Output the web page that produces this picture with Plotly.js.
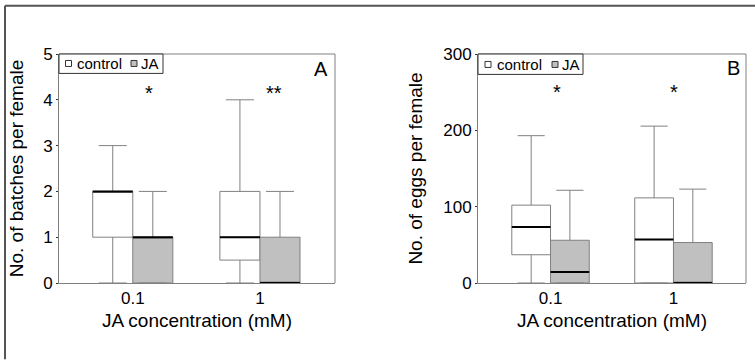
<!DOCTYPE html>
<html><head><meta charset="utf-8">
<script src="https://cdn.plot.ly/plotly-3.0.1.min.js"></script>
<style>html,body{margin:0;padding:0;background:#fff}</style>
</head><body><div id="chart" style="width:755px;height:360px"></div>
<script>
// ---- data ----
const categories = ['0.1', '1'];
const seriesNames = ['control', 'JA'];
// Panel A: No. of batches per female
const batchesControlMin = [0, 0];
const batchesControlQ1 = [1, 0.5];
const batchesControlMedian = [2, 1];
const batchesControlQ3 = [2, 2];
const batchesControlMax = [3, 4];
const batchesJAMin = [0, 0];
const batchesJAQ1 = [0, 0];
const batchesJAMedian = [1, 0];
const batchesJAQ3 = [1, 1];
const batchesJAMax = [2, 2];
// Panel B: No. of eggs per female
const eggsControlMin = [0, 0];
const eggsControlQ1 = [37, 0];
const eggsControlMedian = [73.5, 57];
const eggsControlQ3 = [102, 111.5];
const eggsControlMax = [193, 205.5];
const eggsJAMin = [0, 0];
const eggsJAQ1 = [0, 0];
const eggsJAMedian = [14.5, 0];
const eggsJAQ3 = [56, 53];
const eggsJAMax = [121.5, 123];
const signifA = ['*', '**'];
const signifB = ['*', '*'];

// ---- helpers (pixel -> paper, paper = plot area inside margins) ----
const W = 755, H = 360;
const ML = 59, MR = 9, MT = 53.5, MB = 76.5;
const PW = W - ML - MR, PH = H - MT - MB;
const px = x => (x - ML) / PW;
const py = y => (H - MB - y) / PH;
const FONT = 'Arial, "Liberation Sans", sans-serif';
const GRAY = '#808080';
const JAFILL = '#c0c0c0';

function boxTrace(q1, med, q3, lo, hi, fill, xa, ya, group) {
  return {type: 'box', x: categories, q1: q1, median: med, q3: q3,
    lowerfence: lo, upperfence: hi, fillcolor: fill,
    line: {color: GRAY, width: 1}, whiskerwidth: 0.7,
    offsetgroup: group, xaxis: xa, yaxis: ya, showlegend: false};
}
function medianTrace(med, xa, ya, group) {
  return {type: 'box', x: categories, q1: med, median: med, q3: med,
    lowerfence: med, upperfence: med, fillcolor: 'rgba(0,0,0,0)',
    line: {color: '#000', width: 2}, whiskerwidth: 0,
    offsetgroup: group, xaxis: xa, yaxis: ya, showlegend: false};
}

const data = [
  boxTrace(batchesControlQ1, batchesControlMedian, batchesControlQ3, batchesControlMin, batchesControlMax, '#ffffff', 'x', 'y', 'c'),
  boxTrace(batchesJAQ1, batchesJAMedian, batchesJAQ3, batchesJAMin, batchesJAMax, JAFILL, 'x', 'y', 'j'),
  medianTrace(batchesControlMedian, 'x', 'y', 'c'),
  medianTrace(batchesJAMedian, 'x', 'y', 'j'),
  boxTrace(eggsControlQ1, eggsControlMedian, eggsControlQ3, eggsControlMin, eggsControlMax, '#ffffff', 'x2', 'y2', 'c'),
  boxTrace(eggsJAQ1, eggsJAMedian, eggsJAQ3, eggsJAMin, eggsJAMax, JAFILL, 'x2', 'y2', 'j'),
  medianTrace(eggsControlMedian, 'x2', 'y2', 'c'),
  medianTrace(eggsJAMedian, 'x2', 'y2', 'j')
];

const axisCommon = {showline: true, linecolor: GRAY, linewidth: 1,
  tickfont: {family: FONT, size: 17, color: '#000'}};
const xTitle = {text: 'JA concentration (mM)', font: {family: FONT, size: 19, color: '#000'}, standoff: 6};
const yAxisExtra = {ticks: 'outside', ticklen: 2, tickwidth: 1, tickcolor: '#333',
  showgrid: true, gridcolor: 'rgba(255,255,255,0)', zeroline: false};
const xAxisExtra = {type: 'category', ticks: '', showgrid: false, zeroline: false};

const frameLine = {color: GRAY, width: 1};
const layout = {
  width: W, height: H, margin: {l: ML, r: MR, t: MT, b: MB, pad: 0},
  paper_bgcolor: '#fff', plot_bgcolor: '#fff', showlegend: false,
  boxmode: 'group', boxgap: 0.37, boxgroupgap: 0,
  font: {family: FONT, color: '#000'},
  xaxis: Object.assign({}, axisCommon, xAxisExtra, {domain: [0, px(335)],
    range: [-0.58, 1.59], title: xTitle, anchor: 'y'}),
  yaxis: Object.assign({}, axisCommon, yAxisExtra, {domain: [0, 1], range: [0, 5], dtick: 1, anchor: 'x',
    title: {text: 'No. of batches per female', font: {family: FONT, size: 19, color: '#000'}, standoff: 14}}),
  xaxis2: Object.assign({}, axisCommon, xAxisExtra, {domain: [px(478), 1],
    range: [-0.59, 1.59], title: xTitle, anchor: 'y2'}),
  yaxis2: Object.assign({}, axisCommon, yAxisExtra, {domain: [0, 1], range: [0, 300], dtick: 100, anchor: 'x2',
    title: {text: 'No. of eggs per female', font: {family: FONT, size: 19, color: '#000'}, standoff: 15}}),
  shapes: [
    // plot-area borders (top and right sides)
    {type: 'line', xref: 'x domain', yref: 'y domain', x0: 0, x1: 1, y0: 1, y1: 1, line: frameLine},
    {type: 'line', xref: 'x domain', yref: 'y domain', x0: 1, x1: 1, y0: 0, y1: 1, line: frameLine},
    {type: 'line', xref: 'x2 domain', yref: 'y2 domain', x0: 0, x1: 1, y0: 1, y1: 1, line: frameLine},
    {type: 'line', xref: 'x2 domain', yref: 'y2 domain', x0: 1, x1: 1, y0: 0, y1: 1, line: frameLine},
    // outer frame (left and top)
    {type: 'line', xref: 'paper', yref: 'paper', x0: px(5), x1: px(5), y0: py(360), y1: py(5), line: {color: '#555', width: 2}},
    {type: 'line', xref: 'paper', yref: 'paper', x0: px(5), x1: px(755), y0: py(5), y1: py(5), line: {color: '#555', width: 2}},
    // legend A
    {type: 'rect', xref: 'paper', yref: 'paper', x0: px(59), x1: px(163), y0: py(73), y1: py(53.5), line: {color: '#333', width: 1}, fillcolor: '#fff'},
    {type: 'rect', xref: 'paper', yref: 'paper', x0: px(65.5), x1: px(71.5), y0: py(66), y1: py(60), line: {color: '#333', width: 1}, fillcolor: '#fff'},
    {type: 'rect', xref: 'paper', yref: 'paper', x0: px(131), x1: px(137), y0: py(66), y1: py(60), line: {color: '#333', width: 1}, fillcolor: JAFILL},
    // legend B
    {type: 'rect', xref: 'paper', yref: 'paper', x0: px(478), x1: px(583), y0: py(74), y1: py(53.5), line: {color: '#333', width: 1}, fillcolor: '#fff'},
    {type: 'rect', xref: 'paper', yref: 'paper', x0: px(485), x1: px(491), y0: py(67), y1: py(61), line: {color: '#333', width: 1}, fillcolor: '#fff'},
    {type: 'rect', xref: 'paper', yref: 'paper', x0: px(552), x1: px(558), y0: py(67), y1: py(61), line: {color: '#333', width: 1}, fillcolor: JAFILL}
  ],
  annotations: [
    {xref: 'paper', yref: 'paper', x: px(75), y: py(63), xanchor: 'left', yanchor: 'middle', text: seriesNames[0], showarrow: false, font: {family: FONT, size: 15, color: '#000'}},
    {xref: 'paper', yref: 'paper', x: px(138.5), y: py(63), xanchor: 'left', yanchor: 'middle', text: seriesNames[1], showarrow: false, font: {family: FONT, size: 15, color: '#000'}},
    {xref: 'paper', yref: 'paper', x: px(495), y: py(64), xanchor: 'left', yanchor: 'middle', text: seriesNames[0], showarrow: false, font: {family: FONT, size: 15, color: '#000'}},
    {xref: 'paper', yref: 'paper', x: px(560), y: py(64), xanchor: 'left', yanchor: 'middle', text: seriesNames[1], showarrow: false, font: {family: FONT, size: 15, color: '#000'}},
    {xref: 'paper', yref: 'paper', x: px(321), y: py(69), xanchor: 'center', yanchor: 'middle', text: 'A', showarrow: false, font: {family: FONT, size: 20, color: '#000'}},
    {xref: 'paper', yref: 'paper', x: px(733), y: py(68), xanchor: 'center', yanchor: 'middle', text: 'B', showarrow: false, font: {family: FONT, size: 20, color: '#000'}},
    {xref: 'x', yref: 'y', x: categories[0], y: 4.15, xshift: 4, text: signifA[0], showarrow: false, font: {family: FONT, size: 20, color: '#000'}},
    {xref: 'x', yref: 'y', x: categories[1], y: 4.15, xshift: 14, text: signifA[1], showarrow: false, font: {family: FONT, size: 20, color: '#000'}},
    {xref: 'x2', yref: 'y2', x: categories[0], y: 250, xshift: -6, text: signifB[0], showarrow: false, font: {family: FONT, size: 20, color: '#000'}},
    {xref: 'x2', yref: 'y2', x: categories[1], y: 250, xshift: 1, text: signifB[1], showarrow: false, font: {family: FONT, size: 20, color: '#000'}}
  ]
};

Plotly.newPlot('chart', data, layout, {displayModeBar: false});
</script>
</body></html>
